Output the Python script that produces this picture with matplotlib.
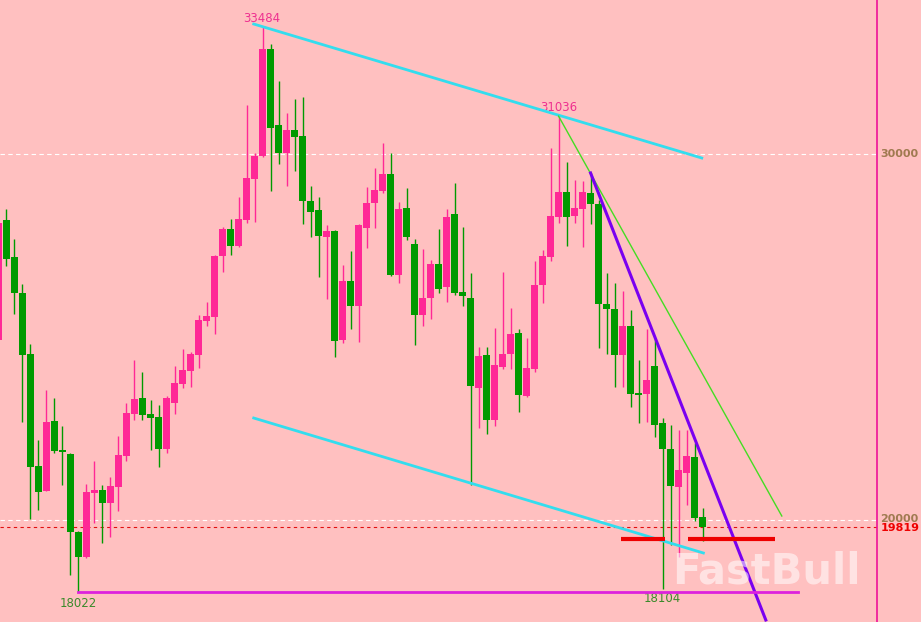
import numpy as np
import matplotlib
matplotlib.use("Agg")
import matplotlib.pyplot as plt
import matplotlib.transforms as mtransforms

# daily candles (oldest first)
opens = [24919, 28198, 27187, 26203, 24537, 21477, 20794, 22706, 21914, 21805,
         19674, 18991, 20739, 20821, 20466, 20903, 21750, 22898, 23335, 22898,
         22816, 21941, 23198, 23717, 24072, 24509, 25438, 25548, 27214, 27952,
         27487, 28198, 29318, 29946, 32869, 30793, 30028, 30656, 30492, 28717,
         28471, 27733, 27897, 24919, 26531, 25848, 27979, 28662, 28990, 29454,
         26695, 28525, 27542, 25602, 26067, 26996, 26367, 28362, 26231, 26067,
         23608, 24509, 22734, 24182, 24537, 25111, 23389, 24127, 26422, 27187,
         28280, 28963, 28307, 28498, 28935, 28635, 25903, 25766, 24509, 25302,
         23471, 23444, 24209, 22652, 21941, 20903, 21286, 21723, 20084]
highs = [28198, 28498, 27679, 26449, 24810, 22187, 23553, 23335, 22570, 21832,
         19701, 20985, 21614, 20958, 21177, 22296, 23198, 24373, 24045, 23280,
         23143, 23389, 24209, 24673, 24591, 25602, 25957, 27242, 28006, 28225,
         28826, 31339, 30028, 33484, 33006, 31995, 31121, 31503, 31558, 29127,
         28826, 28061, 27924, 26968, 27351, 28100, 29099, 29618, 30301, 30028,
         28689, 29072, 27679, 27405, 27105, 27952, 28498, 29208, 28006, 26750,
         24728, 24728, 25247, 26777, 25793, 25220, 24974, 27078, 27378, 30165,
         31036, 29782, 29290, 29263, 29482, 28744, 26750, 26477, 26258, 25739,
         24373, 25220, 24947, 22788, 22597, 22460, 22460, 22105, 20329]
lows = [24865, 26941, 25630, 22679, 20029, 20275, 20794, 21832, 20958, 18499,
        18022, 18964, 19920, 19373, 19537, 20247, 21614, 22734, 22734, 21914,
        21450, 21832, 22898, 23608, 23635, 24154, 25302, 25083, 26777, 27242,
        27460, 28116, 28143, 29919, 28990, 29728, 29127, 29536, 28088, 27733,
        26640, 26039, 24455, 24837, 25220, 24865, 27433, 27979, 28935, 26660,
        26477, 27651, 24783, 25302, 25493, 26203, 25957, 26150, 25848, 20958,
        22515, 22351, 22570, 24127, 24127, 22952, 23362, 24045, 25930, 27078,
        28116, 27487, 28116, 27460, 28088, 24701, 24537, 23635, 23635, 23089,
        22652, 22679, 22269, 18104, 19319, 18991, 20411, 19974, 19428]
closes = [28116, 27132, 26203, 24509, 21450, 20767, 22679, 21886, 21859, 19674,
          18991, 20767, 20821, 20466, 20931, 21777, 22925, 23307, 22870, 22788,
          21941, 23335, 23744, 24100, 24537, 25466, 25575, 27214, 27952, 27487,
          28225, 29345, 29946, 32869, 30711, 30028, 30656, 30465, 28717, 28416,
          27761, 27897, 24892, 26531, 25848, 28061, 28662, 29017, 29454, 26695,
          28498, 27733, 25602, 26067, 26996, 26313, 28280, 26203, 26121, 23663,
          24482, 22734, 24236, 24537, 25083, 23417, 24154, 26422, 27214, 28307,
          28963, 28280, 28525, 28963, 28635, 25903, 25766, 24509, 25302, 23444,
          23417, 23826, 22597, 21941, 20931, 21368, 21750, 20056, 19819]

# marked extremes and the last price
high_1, high_2 = 33484, 31036
low_1, low_2 = 18022, 18104
last_price = 19819
grid_levels = [30000, 20000]

# trend lines drawn on the chart: (x0, y0, x1, y1) in bar index / price
upper_channel = (31.9, 33552, 87.9, 29891)
lower_channel = (31.9, 22788, 88.1, 19100)
fast_trend = (74.0, 29482, 95.9, 17270)
slow_trend = (70.0, 31036, 97.9, 20111)
support = 19483

BG = "#FFC0C0"
UP = "#FF2896"
DOWN = "#009A00"

fig = plt.figure(figsize=(9.21, 6.22), dpi=100, facecolor=BG)
ax = fig.add_axes([0, 0, 877 / 921, 1])
ax.set_facecolor(BG)

o = np.array(opens)
h = np.array(highs)
l = np.array(lows)
c = np.array(closes)
x = np.arange(len(o))
cols = [UP if cc >= oo else DOWN for oo, cc in zip(o, c)]

ax.vlines(x, l, h, colors=cols, linewidth=1.0, zorder=3)
body = np.maximum(np.abs(c - o), 60)
ax.bar(x, body, bottom=np.minimum(o, c), width=0.82, color=cols,
       linewidth=0, zorder=3)

# reference levels
for lev in grid_levels:
    ax.axhline(lev, color="white", linestyle=(0, (4, 3)), linewidth=0.8, zorder=1)
ax.axhline(last_price, color="#E01010", linestyle=(0, (3, 3)), linewidth=0.8, zorder=1)

ax.plot(upper_channel[::2], upper_channel[1::2], color="#33DDEE", linewidth=2, zorder=4)
ax.plot(lower_channel[::2], lower_channel[1::2], color="#33DDEE", linewidth=2, zorder=4)
ax.plot(slow_trend[::2], slow_trend[1::2], color="#44DD22", linewidth=1, zorder=4)
ax.plot(fast_trend[::2], fast_trend[1::2], color="#7A00F0", linewidth=2.2, zorder=4)
ax.plot([77.8, 83.3], [support, support], color="#EE0000", linewidth=3, zorder=5,
        solid_capstyle="butt")
ax.plot([86.2, 97.0], [support, support], color="#EE0000", linewidth=3, zorder=5,
        solid_capstyle="butt")
ax.plot([10, 99.9], [low_1, low_1], color="#DD22DD", linewidth=2, zorder=4)

ax.text(32.9, high_1 + 50, str(high_1), color="#EE3090", fontsize=8.5,
        ha="center", va="bottom")
ax.text(70, high_2 + 60, str(high_2), color="#EE3090", fontsize=8.5,
        ha="center", va="bottom")
ax.text(10, low_1 - 120, str(low_1), color="#3A8A2A", fontsize=8.5,
        ha="center", va="top")
ax.text(83, low_2 - 60, str(low_2), color="#3A8A2A", fontsize=8.5,
        ha="center", va="top")

ax.text(96, 18600, "FastBull", color="white", alpha=0.55, fontsize=30,
        fontweight="bold", ha="center", va="center", zorder=6)

# price scale on the right
tr = mtransforms.blended_transform_factory(ax.transAxes, ax.transData)
ax.text(1.004, 30000, "30000", transform=tr, color="#A07A50", fontsize=8,
        fontweight="bold", va="center", ha="left", clip_on=False)
ax.text(1.004, 20030, "20000", transform=tr, color="#A07A50", fontsize=8,
        fontweight="bold", va="center", ha="left", clip_on=False)
ax.text(1.004, 19770, str(last_price), transform=tr, color="#EE0000", fontsize=8,
        fontweight="bold", va="center", ha="left", clip_on=False)

ax.set_xlim(0.19, 109.8)
ax.set_ylim(17215, 34208)
for s in ["top", "bottom", "left"]:
    ax.spines[s].set_visible(False)
ax.spines["right"].set_color("#EE1199")
ax.spines["right"].set_linewidth(1.2)
ax.set_xticks([])
ax.set_yticks([])

fig.savefig("out.png", dpi=100, facecolor=BG)
